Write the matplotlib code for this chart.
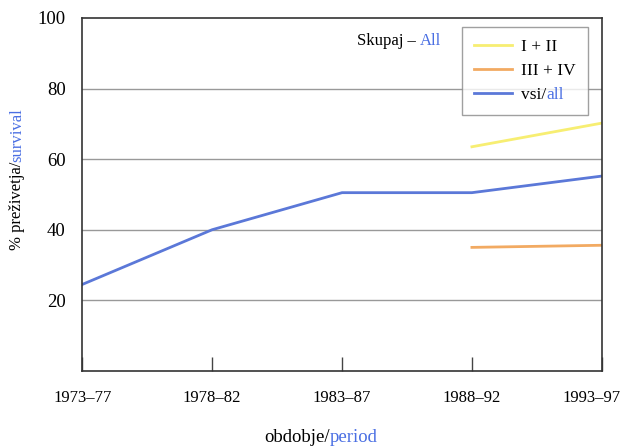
import numpy as np
import matplotlib.pyplot as plt
import matplotlib.transforms as mtransforms

plt.rcParams['font.family'] = ['Liberation Serif', 'DejaVu Serif']

# podatki
periods = ['1973–77', '1978–82', '1983–87', '1988–92', '1993–97']
vsi = [24.5, 40.0, 50.5, 50.5, 55.2]
st_1_2 = [np.nan, np.nan, np.nan, 63.5, 70.2]
st_3_4 = [np.nan, np.nan, np.nan, 35.0, 35.6]
yticks = [20, 40, 60, 80, 100]

blue_txt = '#4a6fe3'

fig = plt.figure(figsize=(6.23, 4.48), dpi=100)
ax = fig.add_axes([0.132, 0.172, 0.834, 0.788])

x = np.arange(len(periods))
ax.plot(x, st_1_2, color='#f7ee72', lw=2, label='I + II')
ax.plot(x, st_3_4, color='#f2aa62', lw=2, label='III + IV')
ax.plot(x, vsi, color='#5b78d8', lw=2, label='vsi/')

ax.set_xlim(0, 4)
ax.set_ylim(0, 100)
ax.set_yticks(yticks)
ax.set_xticks(x)
ax.set_xticklabels(periods)
ax.tick_params(axis='x', direction='in', length=10, width=1, color='#444444', pad=14, labelsize=12)
ax.tick_params(axis='y', length=0, pad=12, labelsize=13.5)
# zadnja oznaka malo levo, da ni odrezana
lab = ax.get_xticklabels()[-1]
lab.set_transform(lab.get_transform() + mtransforms.ScaledTranslation(-0.1, 0, fig.dpi_scale_trans))
for yv in yticks[:-1]:
    ax.axhline(yv, color='#999999', lw=1, zorder=0)
for s in ax.spines.values():
    s.set_color('#333333')
    s.set_linewidth(1.2)

# oznake osi
yl = ax.text(-0.125, 0.467, '% preživetja/', transform=ax.transAxes, rotation=90,
             ha='center', va='center', fontsize=12)
ax.annotate('survival', xy=(0.5, 1), xycoords=yl, rotation=90, ha='center',
            va='bottom', fontsize=12, color=blue_txt)
xl = ax.text(0.477, -0.2, 'obdobje/', transform=ax.transAxes, ha='right',
             va='baseline', fontsize=13.5)
ax.annotate('period', xy=(1, 0), xycoords=xl, ha='left', va='bottom',
            fontsize=13.5, color=blue_txt)

t = ax.text(0.528, 0.923, 'Skupaj – ', transform=ax.transAxes, ha='left',
            va='baseline', fontsize=12)
ax.annotate('All', xy=(1, 0), xycoords=t, ha='left', va='bottom',
            fontsize=12, color=blue_txt)

leg = ax.legend(loc='upper right', bbox_to_anchor=(0.973, 0.975), fontsize=12.5,
                frameon=True, fancybox=False, edgecolor='#888888',
                handlelength=2.2, borderpad=0.7, labelspacing=0.45,
                handletextpad=0.5, borderaxespad=0)
leg.get_frame().set_linewidth(1)
ax.annotate('all', xy=(1, 0), xycoords=leg.get_texts()[2], ha='left',
            va='bottom', fontsize=12.5, color=blue_txt, zorder=10)

fig.savefig('out.png', dpi=100)
